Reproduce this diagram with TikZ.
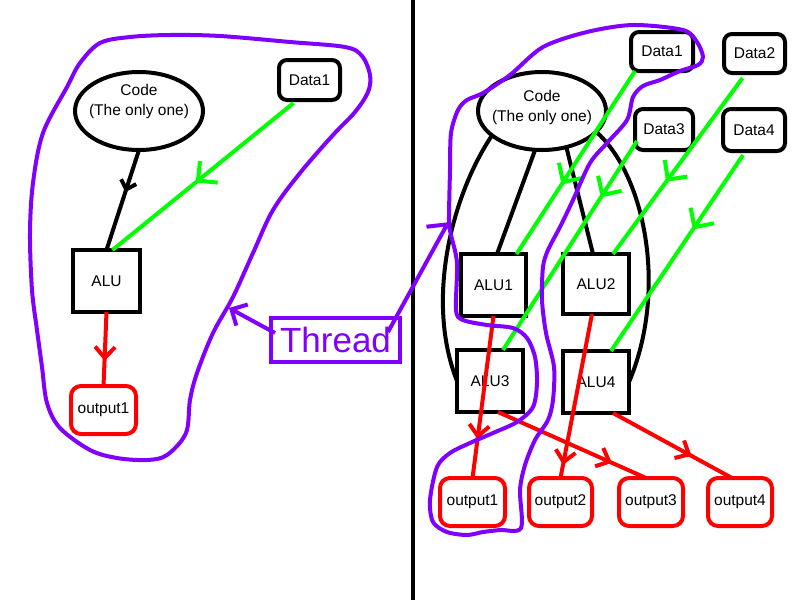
\documentclass[tikz,border=0pt]{standalone}
\usepackage{fontspec}
\setmainfont{Liberation Sans}
\usetikzlibrary{arrows.meta,decorations.markings,calc,shapes.geometric}
\definecolor{vio}{RGB}{128,0,255}
\definecolor{grn}{RGB}{0,255,0}
\definecolor{rd}{RGB}{255,0,0}
\begin{document}
\begin{tikzpicture}[x=1pt,y=-1pt,
  every node/.style={font=\fontsize{15.5}{20}\selectfont, inner sep=0pt, outer sep=0pt},
  sq/.style={draw=black, line width=4pt},
  dbox/.style={draw=black, line width=4pt, rounded corners=8pt},
  obox/.style={draw=rd, line width=4pt, rounded corners=10pt},
  ell/.style={ellipse, draw=black, line width=4pt, minimum width=128pt, minimum height=78pt},
  wire/.style={line width=4pt},
  garrow/.style={postaction={decorate,decoration={markings,mark=at position #1 with {\arrow{Straight Barb[length=14pt,width=28pt]}}}}},
  rarrow/.style={postaction={decorate,decoration={markings,mark=at position #1 with {\arrow{Straight Barb[length=11pt,width=20pt]}}}}},
  karrow/.style={postaction={decorate,decoration={markings,mark=at position #1 with {\arrow{Straight Barb[length=8pt,width=16pt]}}}}},
  blob/.style={draw=vio, line width=4pt}
]
\useasboundingbox (0,0) rectangle (800,600);
\fill[white] (0,0) rectangle (800,600);

% divider
\draw[line width=4pt] (413,0) -- (413,600);

% ---------- left ----------
\node[ell] (code) at (139,111) {};
\node[align=center] (codetext) at (139,101) {Code\\(The only one)};
\node[dbox, minimum width=61pt, minimum height=40pt] (data1l) at (309.5,80) {Data1};
\node[sq, minimum width=67pt, minimum height=62pt] (alu) at (106.5,281) {ALU};
\node[obox, minimum width=65pt, minimum height=48pt] (out1l) at (103.5,410) {output1};

\draw[wire, karrow=0.42] (code.south) -- (alu.north);
\draw[wire, grn, garrow=0.54] ($(data1l.south)+(-16,3)$) -- ($(alu.north)+(6,0)$);
\draw[wire, rd, rarrow=0.66] (alu.south) -- (out1l.north);

% left blob
\draw[blob] plot[smooth cycle, tension=0.55] coordinates {
 (100,43) (130,37) (170,35) (220,36) (290,42) (345,47) (362,56) (370,75) (368,92)
 (355,112) (333,135) (300,173) (273,210) (253,253) (233,297) (213,333) (197,373)
 (190,400) (186,433) (167,455) (147,460) (117,458) (90,450) (60,428) (47,403)
 (42,367) (37,330) (32,290) (30,233) (33,183) (43,133) (67,87) (80,63)};

% Thread
\node[draw=vio, line width=4pt, minimum width=129pt, minimum height=44pt,
      text=vio, font=\fontsize{35}{40}\selectfont] (thread) at (335.5,340) {Thread};
\coordinate (tipL) at (229,308);
\coordinate (tipR) at (449,221);
\draw[wire, vio, -{Straight Barb[length=12pt,width=24pt]}] ($(thread.west)+(4,-7)$) -- (tipL);
\draw[wire, vio, -{Straight Barb[harpoon,length=12pt,width=34pt]}] ($(thread.north east)+(-12,14)$) -- (tipR);

% ---------- right ----------
\node[ell] (coder) at (542,111) {};
\node[align=center] (codertext) at (542,107) {Code\\(The only one)};
\node[dbox, minimum width=62pt, minimum height=39pt] (d1) at (662,51.5) {Data1};
\node[dbox, minimum width=61pt, minimum height=39pt] (d2) at (754.5,53.5) {Data2};
\node[dbox, minimum width=58pt, minimum height=41pt] (d3) at (664,129.5) {Data3};
\node[dbox, minimum width=62pt, minimum height=42pt] (d4) at (754,130) {Data4};

\node[sq, minimum width=65pt, minimum height=62pt] (alu1) at (493.5,285) {ALU1};
\node[sq, minimum width=66pt, minimum height=60pt] (alu2) at (596,284) {ALU2};
\node[sq, minimum width=66pt, minimum height=62pt] (alu3) at (490,381) {ALU3};
\node[sq, minimum width=66pt, minimum height=62pt] (alu4) at (596,382) {ALU4};

\node[obox, minimum width=65pt, minimum height=48pt] (out1) at (472.5,502) {output1};
\node[obox, minimum width=63pt, minimum height=48pt] (out2) at (560.5,502) {output2};
\node[obox, minimum width=64pt, minimum height=48pt] (out3) at (651,502) {output3};
\node[obox, minimum width=64pt, minimum height=48pt] (out4) at (740,502) {output4};

% code -> ALUs
\draw[wire] (coder.-100) -- ($(alu1.north)+(3.5,0)$);
\draw[wire] (coder.-56) -- ($(alu2.north)+(-3,0)$);
\draw[wire] (coder.-154) .. controls (452,195) and (425,300) .. (alu3.west);
\draw[wire] (coder.-21) .. controls (645,175) and (668,290) .. (alu4.east);

% data -> ALUs
\draw[wire, grn, garrow=0.62] ($(d1.south)+(-27,0)$) -- ($(alu1.north)+(23,0)$);
\draw[wire, grn, garrow=0.27] ($(d3.south west)+(2,-9)$) -- ($(alu3.north)+(13,0)$);
\draw[wire, grn, garrow=0.59] ($(d2.south)+(-12,5)$) -- ($(alu2.north)+(17,0)$);
\draw[wire, grn, garrow=0.38] ($(d4.south)+(-11,4)$) -- ($(alu4.north)+(15,0)$);

% ALUs -> outputs
\draw[wire, rd, rarrow=0.76] (alu1.south) -- (out1.north);
\draw[wire, rd, rarrow=0.92] ($(alu2.south)+(-4,0)$) -- (out2.north);
\draw[wire, rd, rarrow=0.77] ($(alu3.south)+(8,0)$) -- ($(out3.north)+(-5,0)$);
\draw[wire, rd, rarrow=0.66] ($(alu4.south)+(17,0)$) -- ($(out4.north)+(-8,0)$);

% right blob
\draw[blob] plot[smooth cycle, tension=0.5] coordinates {
 (449,221) (450,170) (451,133) (458,110) (467,100) (483,93) (510,75) (543,47)
 (587,32) (633,25) (683,30) (697,42) (703,57) (698,65) (680,71) (660,80) (643,86)
 (633,97) (627,120) (607,143) (590,163) (573,200) (560,227) (548,250) (543,267)
 (542,300) (546,333) (554,367) (553,400) (548,420) (535,440) (525,465) (520,490)
 (521,528) (500,530) (483,532) (467,535) (447,532) (433,522) (430,500) (437,467)
 (450,453) (470,443) (493,433) (517,422) (533,407) (537,383) (535,357) (527,338)
 (513,328) (487,325) (463,320) (456,310) (457,263) (451,235)};
\end{tikzpicture}
\end{document}
